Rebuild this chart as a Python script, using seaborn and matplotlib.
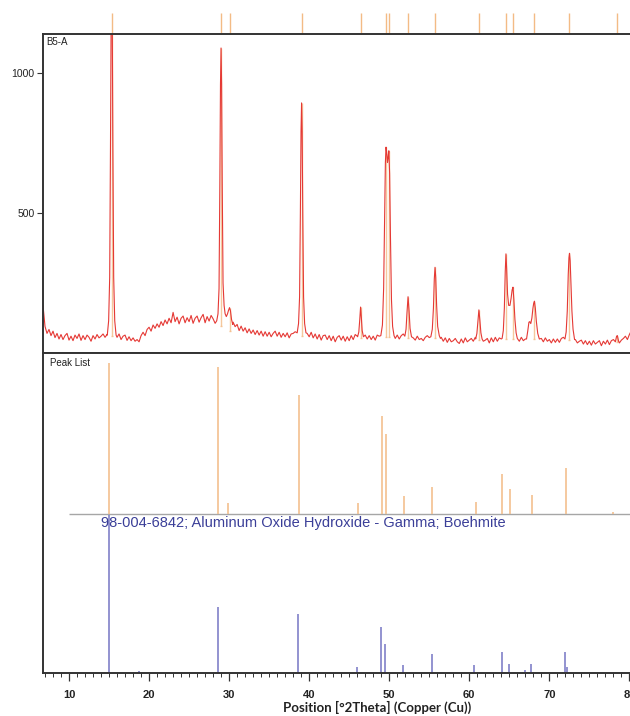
import numpy as np
import pandas as pd
import matplotlib
matplotlib.use("Agg")
import matplotlib.pyplot as plt
from matplotlib.ticker import MultipleLocator
import seaborn as sns

sns.set_theme(style="white")
plt.rcParams["font.family"] = ["Liberation Sans", "DejaVu Sans"]

# ---------------- data ----------------
# measured pattern B5-A: background counts on a 0.25 deg grid starting at 6.75 deg
bg_start = 6.75
bg_step = 0.25
bg_counts = [
    170,
    95, 70, 84, 62,      78, 55, 70, 50,      66, 48, 62, 70,
    46, 60, 44, 64,      52, 68, 45, 62,      48, 64, 56, 42,
    62, 50, 66, 54,      60, 68, 56, 66,      60, 60, 60, 60,
    56, 68, 48, 60,      64, 45, 58, 44,      54, 42, 48, 40,
    62, 74, 62, 84,      92, 78, 100, 88,     104, 92, 112, 98,
    118, 104, 124, 108,  145, 112, 128, 104,  124, 132, 108, 126,
    112, 134, 106, 124,  132, 110, 126, 138,  108, 130, 114, 134,
    122, 106, 120, 120,  120, 120, 120, 120,  120, 110, 110, 94,
    102, 80, 96, 78,     90, 72, 86, 70,      82, 66, 80, 64,
    78, 60, 76, 60,      74, 58, 70, 78,      60, 74, 56, 70,
    58, 72, 54, 68,      70, 76, 70, 70,      70, 70, 70, 70,
    58, 74, 54, 68,      50, 66, 46, 62,      64, 48, 62, 44,
    60, 40, 56, 62,      46, 60, 42, 58,      44, 62, 48, 66,
    60, 60, 60, 60,      64, 50, 62, 48,      60, 46, 64, 60,
    60, 60, 60, 60,      60, 60, 66, 52,      64, 50, 62, 68,
    60, 60, 60, 52,      54, 46, 60, 48,      52, 44, 56, 62,
    55, 55, 55, 55,      55, 55, 56, 42,      54, 38, 52, 40,
    44, 52, 40, 34,      50, 36, 54, 40,      46, 52, 42, 56,
    50, 50, 50, 42,      46, 52, 36, 54,      40, 56, 42, 54,
    50, 50, 50, 50,      50, 50, 50, 50,      54, 42, 56, 44,
    50, 50, 50, 50,      50, 50, 50, 50,      52, 40, 54, 42,
    48, 36, 50, 38,      50, 38, 52, 56,      50, 50, 50, 50,
    50, 48, 36, 42,      46, 32, 44, 30,      42, 28, 44, 32,
    38, 44, 26, 42,      32, 46, 30, 44,      48, 34, 50, 36,
    46, 52, 60, 48,      66, 80,
]

# peak profiles of the measured pattern (theta, counts)
peak_theta = [
    [14.78, 14.95, 15.08, 15.18, 15.26, 15.33, 15.40, 15.48, 15.58, 15.71, 15.88],
    [28.45, 28.61, 28.74, 28.84, 28.92, 28.99, 29.06, 29.14, 29.24, 29.37, 29.5,
     29.65, 29.8, 29.92, 30.05, 30.17, 30.3, 30.45],
    [38.5, 38.67, 38.8, 38.9, 38.98, 39.05, 39.12, 39.2, 39.3, 39.43, 39.6],
    [46.05, 46.2, 46.32, 46.42, 46.52, 46.62, 46.78],
    [48.95, 49.15, 49.3, 49.42, 49.52, 49.6, 49.7, 49.78, 49.87, 49.95, 50.05,
     50.15, 50.28, 50.42, 50.6],
    [51.95, 52.1, 52.22, 52.35, 52.48, 52.6, 52.78],
    [55.2, 55.38, 55.52, 55.63, 55.72, 55.81, 55.92, 56.05, 56.25, 56.4],
    [60.8, 60.95, 61.08, 61.2, 61.32, 61.45, 61.6],
    [64.1, 64.25, 64.38, 64.49, 64.58, 64.67, 64.78, 64.92, 65.08, 65.22, 65.35,
     65.46, 65.57, 65.7, 65.85, 66.0],
    [67.15, 67.3, 67.45, 67.55, 67.68, 67.82, 67.95, 68.05, 68.14, 68.25, 68.38,
     68.55, 68.75],
    [71.95, 72.1, 72.24, 72.36, 72.45, 72.52, 72.6, 72.7, 72.82, 72.96, 73.15],
    [78.25, 78.4, 78.5, 78.65],
]
peak_counts = [
    [64, 115, 270, 740, 1190, 1350, 1190, 740, 270, 115, 64],
    [115, 140, 230, 600, 960, 1089, 960, 600, 250, 170, 140,
     130, 140, 152, 162, 150, 120, 102],
    [72, 105, 200, 500, 790, 893, 790, 500, 200, 105, 72],
    [58, 75, 120, 164, 125, 80, 58],
    [62, 100, 230, 470, 680, 735, 710, 680, 700, 722, 640, 420, 190, 95, 62],
    [60, 85, 145, 201, 150, 88, 58],
    [58, 85, 160, 265, 306, 270, 170, 95, 62, 52],
    [50, 70, 115, 154, 118, 72, 50],
    [52, 80, 160, 290, 354, 300, 210, 170, 170, 195, 225, 235, 190, 120, 72, 52],
    [50, 78, 110, 112, 105, 125, 160, 178, 185, 160, 112, 70, 50],
    [50, 75, 150, 280, 340, 356, 330, 250, 150, 85, 48],
    [40, 60, 62, 42],
]

# fitted peak positions (ticks above the pattern and markers in it)
tick_pos = [15.32, 28.99, 30.07, 39.05, 46.42, 49.6, 49.95, 52.35, 55.72,
            61.2, 64.58, 65.46, 68.14, 72.5, 78.45]
marker_top = [1300, 1089, 160, 893, 164, 735, 720, 201, 306,
              154, 354, 235, 185, 356, 62]
marker_base = [62, 95, 80, 62, 55, 58, 58, 55, 52, 48, 50, 50, 50, 48, 40]

# peak list (relative intensity, %)
list_theta = [15.03, 28.65, 29.8, 38.7, 46.1, 49.1, 49.55, 51.9, 55.3,
              60.8, 64.1, 65.1, 67.8, 72.1, 78.0]
list_rel = [100, 97.4, 7.3, 78.7, 7.3, 64.6, 52.8, 11.9, 18.3,
            8.4, 26.4, 16.5, 12.5, 30.3, 1.8]

# reference pattern 98-004-6842 (relative intensity, %)
ref_theta = [15.02, 18.7, 28.6, 38.6, 46.0, 49.0, 49.5, 51.7, 55.3, 60.6,
             64.1, 64.9, 67.0, 67.7, 71.9, 72.2, 79.1]
ref_rel = [100, 1.0, 41.8, 37.3, 3.8, 28.9, 18.4, 5.1, 12.0, 5.1,
           13.0, 6.0, 1.9, 6.0, 13.0, 3.8, 0.8]

y_ticks = [500, 1000]
x_ticks = [10, 20, 30, 40, 50, 60, 70, 80]
ref_label = "98-004-6842; Aluminum Oxide Hydroxide - Gamma; Boehmite"
x_label = "Position [°2Theta] (Copper (Cu))"

# ---------------- build measured curve ----------------
bg_theta = bg_start + bg_step * np.arange(len(bg_counts))
bg_vals = np.array(bg_counts, dtype=float)
keep = np.ones(len(bg_theta), dtype=bool)
for th in peak_theta:
    keep &= ~((bg_theta > th[0] - 1e-9) & (bg_theta < th[-1] + 1e-9))
xs = np.concatenate([bg_theta[keep]] + [np.asarray(t, float) for t in peak_theta])
ys = np.concatenate([bg_vals[keep]] + [np.asarray(c, float) for c in peak_counts])
order = np.argsort(xs)
df = pd.DataFrame({"theta": xs[order], "counts": ys[order]})

# ---------------- figure ----------------
W, H = 630, 716
fig = plt.figure(figsize=(W / 100, H / 100), dpi=100)


def rect(l, t, r, b):
    return [l / W, 1 - b / H, (r - l) / W, (b - t) / H]


XLIM = (6.75, 80.45)
ax1 = fig.add_axes(rect(43, 34, 633, 353))
ax2 = fig.add_axes(rect(43, 353, 633, 673))

frame_col = "#333333"
orange = "#f3bb85"
red = "#e53935"

# top panel
ax1.vlines(tick_pos, marker_base, marker_top, color=orange, lw=1.0, alpha=0.8, zorder=1)
ax1.hlines(marker_base, np.array(tick_pos) - 0.12, np.array(tick_pos) + 0.12,
           color=orange, lw=1.0, alpha=0.8, zorder=1)
sns.lineplot(data=df, x="theta", y="counts", ax=ax1, color=red, lw=0.8,
             sort=False, estimator=None, zorder=2)
ax1.vlines(tick_pos, 1.0, 1.066, transform=ax1.get_xaxis_transform(),
           clip_on=False, color=orange, lw=1.0)
ax1.set_xlim(*XLIM)
ax1.set_ylim(0, 1139)
ax1.set_yticks(y_ticks)
ax1.set_yticklabels([str(v) for v in y_ticks])
ax1.set_xticks([])
ax1.set_xlabel("")
ax1.set_ylabel("")
ax1.tick_params(axis="y", direction="out", length=4, width=0.8, color=frame_col,
                labelsize=7.5, labelcolor="#222222", pad=2, left=True)
for s in ax1.spines.values():
    s.set_color(frame_col)
    s.set_linewidth(1.4)
ax1.text(0.006, 0.99, "B5-A", transform=ax1.transAxes, ha="left", va="top",
         fontsize=7, color="#222222")

# bottom panel
base = 100.4
ax2.hlines(base, 10, XLIM[1], color="#a6a6a6", lw=1.0, zorder=1)
ax2.vlines(list_theta, base, base + 0.96 * np.array(list_rel), color=orange,
           lw=1.1, zorder=2)
ax2.vlines(ref_theta, 0, ref_rel, color="#8080c8", lw=1.2, zorder=2)
ax2.text(14.0, 95.1, ref_label, ha="left", va="center", fontsize=10.5,
         color="#3b3f98", zorder=3)
ax2.text(0.012, 0.985, "Peak List", transform=ax2.transAxes, ha="left", va="top",
         fontsize=7, color="#222222")
ax2.set_xlim(*XLIM)
ax2.set_ylim(0, 202.5)
ax2.set_yticks([])
ax2.set_xticks(x_ticks)
ax2.set_xticklabels([str(v) for v in x_ticks], fontweight="bold")
ax2.xaxis.set_minor_locator(MultipleLocator(1))
ax2.tick_params(axis="x", which="major", direction="out", length=6, width=0.9,
                color=frame_col, labelsize=8, labelcolor="#222222", pad=6, bottom=True)
ax2.tick_params(axis="x", which="minor", direction="out", length=3, width=0.7,
                color=frame_col, bottom=True)
ax2.set_xlabel("")
ax2.set_ylabel("")
for s in ax2.spines.values():
    s.set_color(frame_col)
    s.set_linewidth(1.4)

fig.text(377 / W, 1 - 707 / H, x_label, ha="center", va="center", fontsize=9.5,
         fontweight="bold", color="#222222", family=["Lato", "DejaVu Sans"])

fig.savefig("out.png", dpi=100)
